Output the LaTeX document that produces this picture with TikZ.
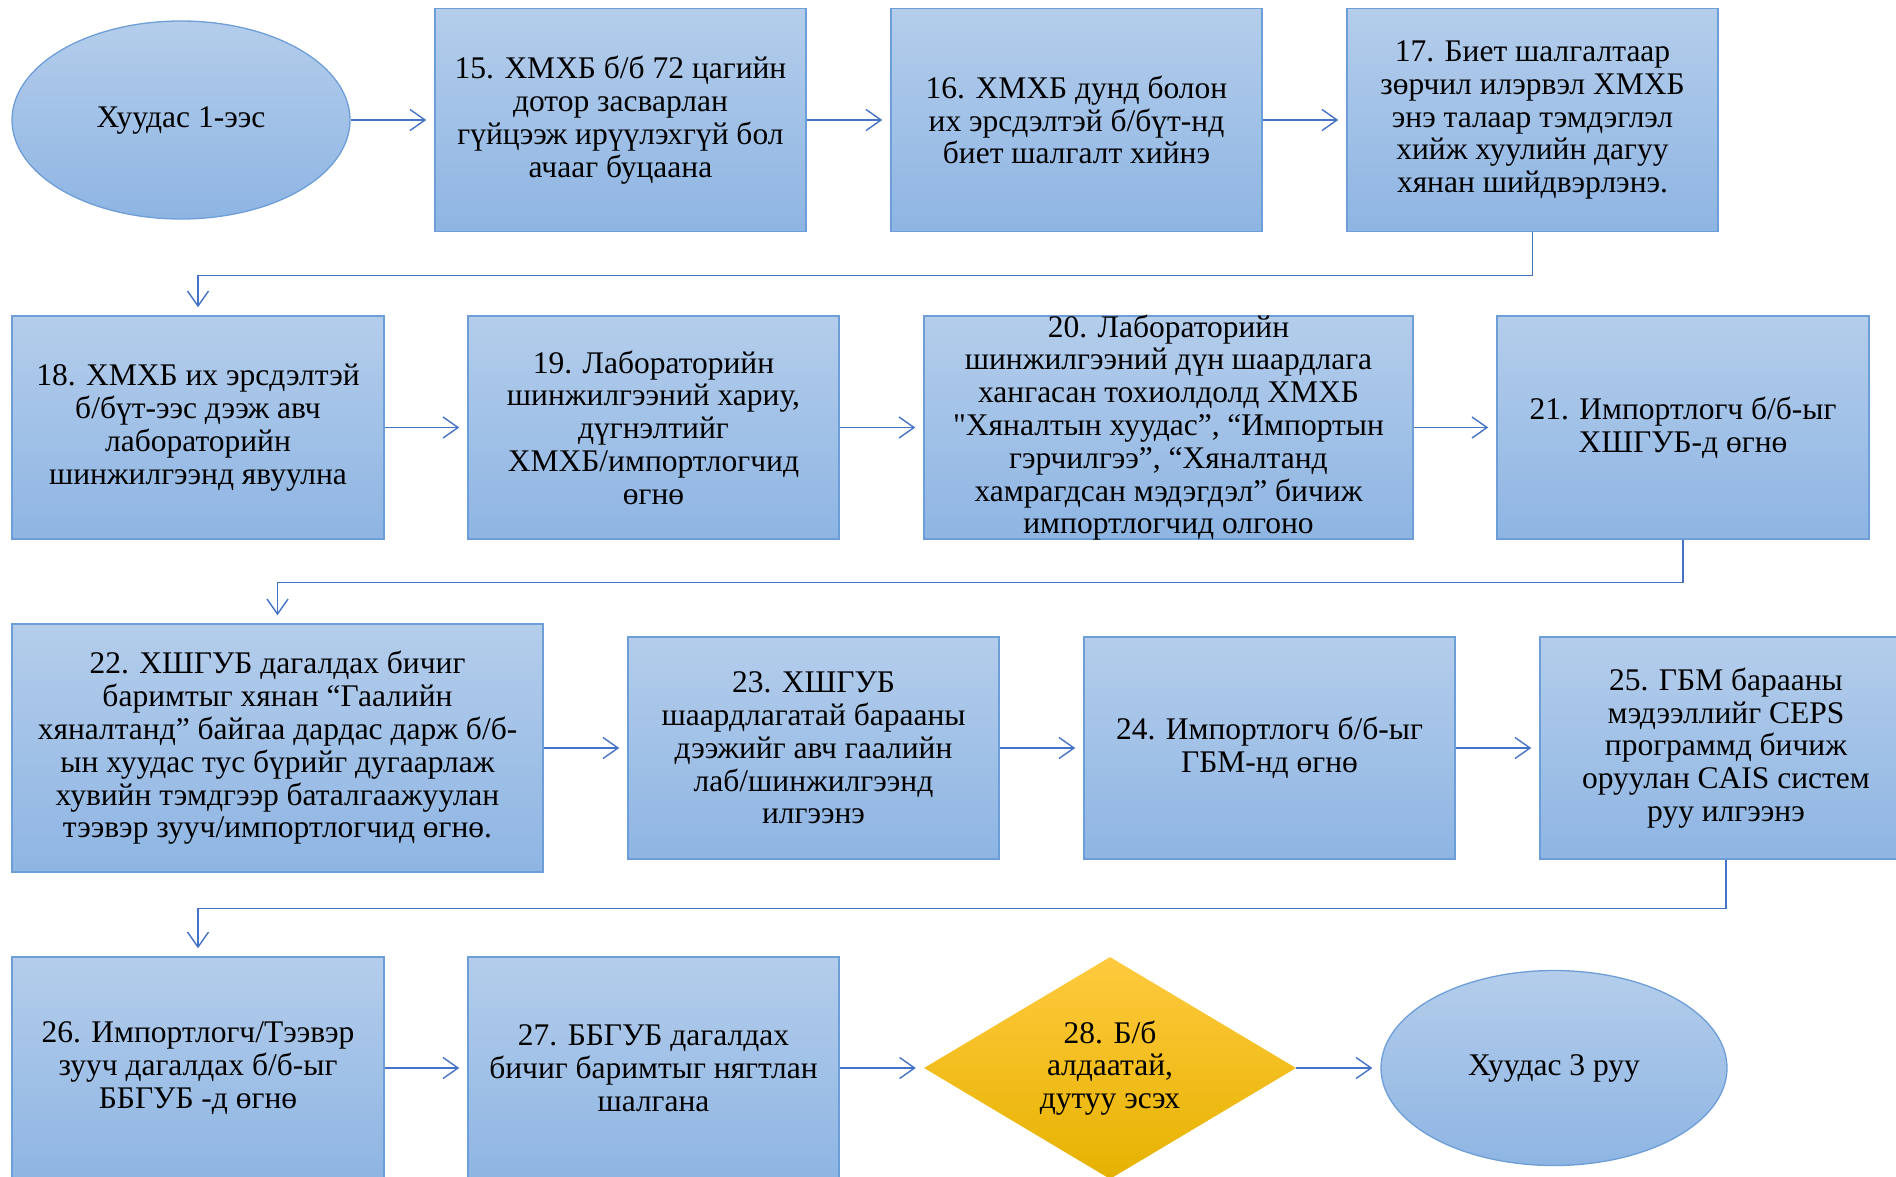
\documentclass[tikz,border=0pt]{standalone}
\usepackage{fontspec}
\newfontfamily\mnfont{Liberation Serif}
\usetikzlibrary{arrows.meta, shapes.geometric}
\definecolor{boxtop}{RGB}{180,205,235}
\definecolor{boxbot}{RGB}{142,181,227}
\definecolor{boxline}{RGB}{110,158,215}
\definecolor{arrline}{RGB}{68,114,196}
\definecolor{dtop}{RGB}{255,202,62}
\definecolor{dmid}{RGB}{255,192,0}
\definecolor{dbot}{RGB}{230,178,0}

\begin{document}
\begin{tikzpicture}[x=1pt, y=-1pt,
    txt/.style={font=\mnfont\fontsize{31.5}{32.8}\selectfont, align=center,
                inner sep=0pt, text=black},
    box/.style={txt, rectangle, draw=boxline, line width=1.5pt,
                top color=boxtop, bottom color=boxbot,
                minimum width=372pt, minimum height=223pt},
    page/.style={txt, ellipse, draw=boxline, line width=1.3pt,
                 top color=boxtop, bottom color=boxbot},
    decision/.style={txt, diamond, draw=none, aspect=1.68,
                     top color=dtop, middle color=dmid, bottom color=dbot,
                     minimum width=372pt, minimum height=222pt},
    arr/.style={draw=arrline, line width=1.4pt, shorten >=8pt,
                -{Straight Barb[length=15pt, width=21pt, line width=1.4pt]}},
]
\useasboundingbox (0,0) rectangle (1896,1176);
\clip (0,0) rectangle (1896,1176);

% row 1
\node[page, minimum width=338pt, minimum height=198pt] (p1) at (181,120) {Хуудас 1-ээс};
\node[box, minimum width=371pt] (b15) at (620.5,120) {15. ХМХБ б/б 72 цагийн\\дотор засварлан\\гүйцээж ирүүлэхгүй бол\\ачааг буцаана};
\node[box, minimum width=371pt] (b16) at (1076.5,120) {16. ХМХБ дунд болон\\их эрсдэлтэй б/бүт-нд\\биет шалгалт хийнэ};
\node[box, minimum width=371pt] (b17) at (1532.5,120) {17. Биет шалгалтаар\\зөрчил илэрвэл ХМХБ\\энэ талаар тэмдэглэл\\хийж хуулийн дагуу\\хянан шийдвэрлэнэ.};

% row 2
\node[box] (b18) at (198,427.5) {18. ХМХБ их эрсдэлтэй\\б/бүт-ээс дээж авч\\лабораторийн\\шинжилгээнд явуулна};
\node[box, minimum width=371pt] (b19) at (653.5,427.5) {19. Лабораторийн\\шинжилгээний хариу,\\дүгнэлтийг\\ХМХБ/импортлогчид\\өгнө};
\node[box, minimum width=489pt, inner ysep=-25pt] (b20) at (1168.5,427.5) {20. Лабораторийн\\шинжилгээний дүн шаардлага\\хангасан тохиолдолд ХМХБ\\"Хяналтын хуудас”, “Импортын\\гэрчилгээ”, “Хяналтанд\\хамрагдсан мэдэгдэл” бичиж\\импортлогчид олгоно};
\node[box] (b21) at (1683,427.5) {21. Импортлогч б/б-ыг\\ХШГУБ-д өгнө};

% row 3
\node[box, minimum width=531pt, minimum height=248pt] (b22) at (277.5,748) {22. ХШГУБ дагалдах бичиг\\баримтыг хянан “Гаалийн\\хяналтанд” байгаа дардас дарж б/б-\\ын хуудас тус бүрийг дугаарлаж\\хувийн тэмдгээр баталгаажуулан\\тээвэр зууч/импортлогчид өгнө.};
\node[box, minimum width=371pt, minimum height=222pt] (b23) at (813.5,748) {23. ХШГУБ\\шаардлагатай барааны\\дээжийг авч гаалийн\\лаб/шинжилгээнд\\илгээнэ};
\node[box, minimum width=371pt, minimum height=222pt] (b24) at (1269.5,748) {24. Импортлогч б/б-ыг\\ГБМ-нд өгнө};
\node[box, minimum height=222pt] (b25) at (1726,748) {25. ГБМ барааны\\мэдээллийг CEPS\\программд бичиж\\оруулан CAIS систем\\руу илгээнэ};

% row 4
\node[box, minimum height=222pt] (b26) at (198,1068) {26. Импортлогч/Тээвэр\\зууч дагалдах б/б-ыг\\ББГУБ -д өгнө};
\node[box, minimum width=371pt, minimum height=222pt] (b27) at (653.5,1068) {27. ББГУБ дагалдах\\бичиг баримтыг нягтлан\\шалгана};
\node[decision] (d28) at (1110,1068) {28. Б/б\\алдаатай,\\дутуу эсэх};
\node[page, minimum width=346pt, minimum height=195pt] (p3) at (1554,1068) {Хуудас 3 руу};

% connectors
\draw[arr] (p1.east) -- (b15.west);
\draw[arr] (b15.east) -- (b16.west);
\draw[arr] (b16.east) -- (b17.west);
\draw[arr] (b17.south) -- ++(0,43) -| (b18.north);
\draw[arr] (b18.east) -- (b19.west);
\draw[arr] (b19.east) -- (b20.west);
\draw[arr] (b20.east) -- (b21.west);
\draw[arr] (b21.south) -- ++(0,43) -| (b22.north);
\draw[arr] (b22.east) -- (b23.west);
\draw[arr] (b23.east) -- (b24.west);
\draw[arr] (b24.east) -- (b25.west);
\draw[arr] (b25.south) -- ++(0,49) -| (b26.north);
\draw[arr] (b26.east) -- (b27.west);
\draw[arr] (b27.east) -- (d28.west);
\draw[arr] (d28.east) -- (p3.west);
\end{tikzpicture}
\end{document}
